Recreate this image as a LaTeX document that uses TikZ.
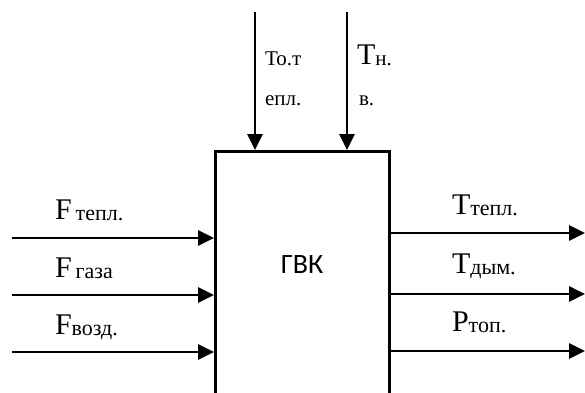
\documentclass[tikz,border=0pt]{standalone}
\usepackage{fontspec}
\setmainfont{Liberation Serif}
\newfontfamily\boxfont{Carlito}
\usetikzlibrary{arrows.meta}
\newcommand{\bigtxt}{\fontsize{30}{32}\selectfont}
\newcommand{\subtxt}[1]{\raisebox{-1pt}{\fontsize{22}{24}\selectfont #1}}
\begin{document}
\begin{tikzpicture}[x=1pt,y=-1pt,
  arr/.style={line width=2.8pt,-{Triangle[length=16pt,width=15pt]}},
  lbl/.style={anchor=base west,inner sep=0pt,outer sep=0pt}]
\useasboundingbox (0,0) rectangle (585,392);
\node[draw,line width=2.8pt,minimum width=174pt,minimum height=300pt,anchor=north west,inner sep=0pt] (box) at (214,150) {};
\node[inner sep=0pt] (gvk) at (302,265) {\boxfont\fontsize{28}{30}\selectfont ГВК};
% top inputs
\coordinate (t1) at (255,12);
\coordinate (t2) at (347,12);
\draw[arr] (t1) -- (t1 |- box.north);
\draw[arr] (t2) -- (t2 |- box.north);
\node[lbl] (lt1a) at (265,65) {\fontsize{21}{23}\selectfont To.т};
\node[lbl] (lt1b) at (265,105) {\fontsize{21}{23}\selectfont епл.};
\node[lbl] (lt2a) at (357,64) {\fontsize{30}{32}\selectfont T\raisebox{-1pt}{\fontsize{21}{23}\selectfont н.}};
\node[lbl] (lt2b) at (359,105) {\fontsize{21}{23}\selectfont в.};
% left inputs
\coordinate (l1) at (12,238);
\coordinate (l2) at (12,295);
\coordinate (l3) at (12,352);
\draw[arr] (l1) -- (l1 -| box.west);
\draw[arr] (l2) -- (l2 -| box.west);
\draw[arr] (l3) -- (l3 -| box.west);
\node[lbl] (ll1) at (55,219) {\bigtxt F\kern4pt\subtxt{тепл.}};
\node[lbl] (ll2) at (55,277) {\bigtxt F\kern4pt\subtxt{газа}};
\node[lbl] (ll3) at (55,334) {\bigtxt F\subtxt{возд.}};
% right outputs
\coordinate (r1) at (585,233);
\coordinate (r2) at (585,294);
\coordinate (r3) at (585,351);
\draw[arr] (r1 -| box.east) -- (r1);
\draw[arr] (r2 -| box.east) -- (r2);
\draw[arr] (r3 -| box.east) -- (r3);
\node[lbl] (lr1) at (452,214) {\bigtxt T\subtxt{тепл.}};
\node[lbl] (lr2) at (452,273) {\bigtxt T\subtxt{дым.}};
\node[lbl] (lr3) at (452,331) {\bigtxt P\subtxt{топ.}};
\end{tikzpicture}
\end{document}
